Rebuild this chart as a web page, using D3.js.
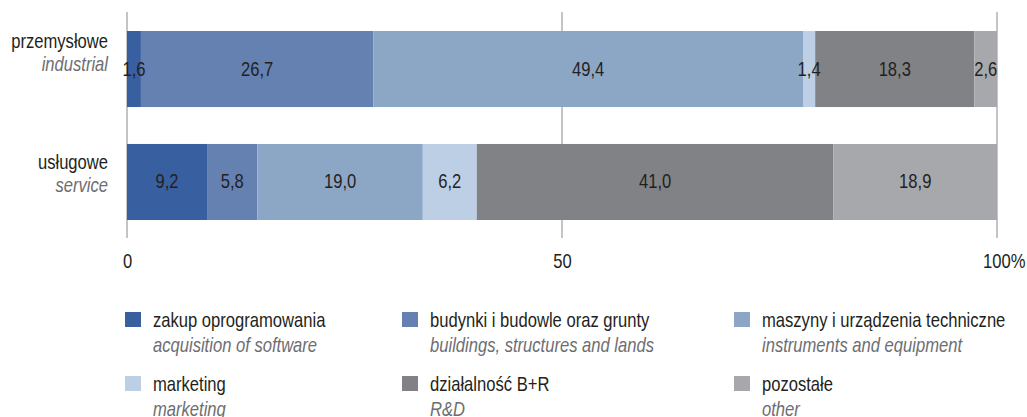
<!DOCTYPE html>
<html>
<head>
<meta charset="utf-8">
<script src="https://cdn.jsdelivr.net/npm/d3@7"></script>
<style>
  body { margin: 0; background: #fff; }
  svg { display: block; font-family: "Liberation Sans", Arial, sans-serif; }
</style>
</head>
<body>
<svg id="chart" width="1027" height="417"></svg>
<script>
// Sector labels (Polish / English)
const sectors = ["przemysłowe", "usługowe"];
const sectorsEn = ["industrial", "service"];

// Spending categories
const categories = ["zakup oprogramowania", "budynki i budowle oraz grunty", "maszyny i urządzenia techniczne", "marketing", "działalność B+R", "pozostałe"];
const categoriesEn = ["acquisition of software", "buildings, structures and lands", "instruments and equipment", "marketing", "R&D", "other"];
const colors = ["#385f9f", "#6581b1", "#8ca7c6", "#bdcfe5", "#818286", "#a7a8ac"];

// Shares (%) per sector, in category order
const industrialValues = [1.6, 26.7, 49.4, 1.4, 18.3, 2.6];
const serviceValues = [9.2, 5.8, 19.0, 6.2, 41.0, 18.9];

const tickValues = [0, 50, 100];
const tickLabels = ["0", "50", "100%"];

// Typography: a condensed look from a regular face squeezed horizontally
const FS = 20, SQ = 0.83;
const DARK = "#231f20", GREY = "#6d6e71";

const svg = d3.select("#chart");

// Append a horizontally condensed text at (x, y)
function label(parent, x, y, str, opts = {}) {
  const t = parent.append("text")
    .attr("transform", `translate(${x},${y}) scale(${SQ},1)`)
    .attr("text-anchor", opts.anchor || "start")
    .attr("font-size", FS)
    .attr("fill", opts.fill || DARK)
    .text(str);
  if (opts.italic) t.attr("font-style", "italic");
  return t;
}

const x = d3.scaleLinear().domain([0, 100]).range([127, 997]);
const y = d3.scaleBand().domain(sectors).range([31, 220]).paddingInner(0.327).paddingOuter(0);

// Gridlines at the tick positions
svg.append("g").selectAll("line").data(tickValues).join("line")
  .attr("x1", d => x(d)).attr("x2", d => x(d))
  .attr("y1", 12).attr("y2", 238)
  .attr("stroke", "#8a8a8d").attr("stroke-width", 1);

// Vertical offset of each sector's two-line label relative to its bar centre
const labelShift = [-4, 4];

// Stacked segments
const rows = [industrialValues, serviceValues];
rows.forEach((vals, i) => {
  let acc = 0;
  const segs = vals.map((v, j) => { const s = { x0: acc, x1: acc + v, v, j }; acc += v; return s; });
  const g = svg.append("g");
  const top = y(sectors[i]), h = y.bandwidth(), cy = top + h / 2;
  g.selectAll("rect").data(segs).join("rect")
    .attr("x", d => x(d.x0))
    .attr("width", d => Math.max(0, Math.min(x(d.x1), x(100)) - x(d.x0)))
    .attr("y", top)
    .attr("height", h)
    .attr("fill", d => colors[d.j]);
  segs.forEach(d => {
    const cx = (x(d.x0) + Math.min(x(d.x1), x(100))) / 2;
    label(g, cx, cy + 6.5, d3.format(".1f")(d.v).replace(".", ","), { anchor: "middle" });
  });

  // Sector labels
  label(svg, 108, cy - 17 + labelShift[i], sectors[i], { anchor: "end" });
  label(svg, 108, cy + 6 + labelShift[i], sectorsEn[i], { anchor: "end", italic: true, fill: GREY });
});

// Axis tick labels
const axis = d3.axisBottom(x).tickValues(tickValues).tickFormat((d, i) => tickLabels[i]).tickSize(0).tickPadding(0);
const ag = svg.append("g").attr("transform", "translate(0,268)").call(axis);
ag.select(".domain").remove();
ag.selectAll("text")
  .attr("font-size", FS).attr("fill", DARK).attr("font-family", null)
  .attr("y", 0).attr("dy", 0)
  .attr("transform", `scale(${SQ},1)`);
ag.selectAll(".tick").filter(d => d === 100).select("text").attr("text-anchor", "start").attr("x", -17.5);

// Legend: three columns, two rows
const legX = [125, 402, 734];
const legY = [312, 376];
categories.forEach((c, i) => {
  const g = svg.append("g").attr("transform", `translate(${legX[i % 3]},${legY[Math.floor(i / 3)]})`);
  g.append("rect").attr("width", 16).attr("height", 15).attr("fill", colors[i]);
  label(g, 28, 15, c);
  label(g, 28, 39.5, categoriesEn[i], { italic: true, fill: GREY });
});
</script>
</body>
</html>
